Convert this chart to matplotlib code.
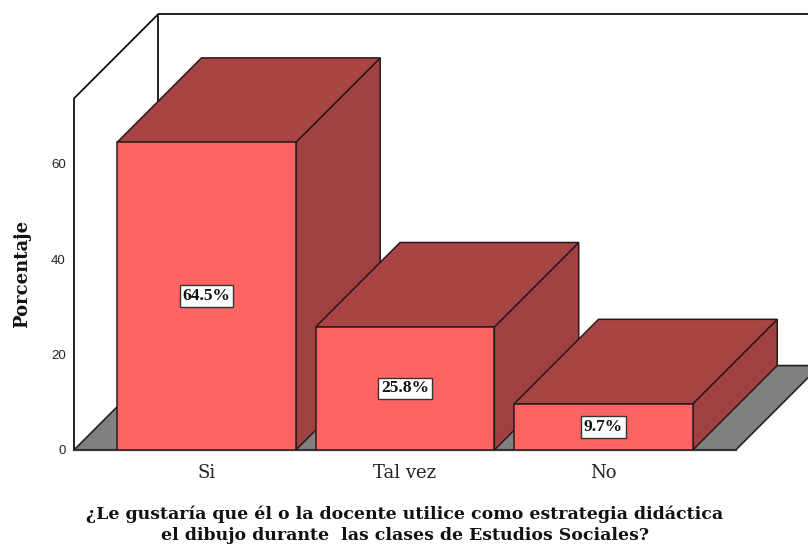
import matplotlib
matplotlib.use('Agg')
import matplotlib.pyplot as plt

# datos
categorias = ['Si', 'Tal vez', 'No']
porcentajes = [64.5, 25.8, 9.7]
etiquetas = ['64.5%', '25.8%', '9.7%']
ticks_y = [0, 20, 40, 60]

ancho = 0.9     # ancho de barra
prof_x = 0.425  # profundidad 3D en unidades de categoria
prof_y = 17.7   # profundidad 3D en unidades de porcentaje
y_max = 91.4
x_min = -0.6675
x_max = 3.03
x_piso = 2.666  # borde derecho del piso

c_frente = '#FF6464'
c_arriba = '#A84444'
c_lado = '#A04040'
c_piso = '#808080'
c_borde = '#2a1a1a'

fig = plt.figure(figsize=(8.08, 5.48), dpi=100)
ax = fig.add_axes([74 / 808, 1 - 450 / 548, 734 / 808, 436 / 548])
ax.set_xlim(x_min, x_max)
ax.set_ylim(0, y_max)

# paredes
ax.plot([x_min, x_min, x_min + prof_x, x_max],
        [0, y_max - prof_y, y_max, y_max], color='#111111', lw=1.3,
        clip_on=False, zorder=1)
ax.plot([x_min + prof_x, x_min + prof_x], [prof_y, y_max], color='#111111', lw=1.3, zorder=1)

# piso
ax.fill([x_min, x_piso, x_piso + prof_x, x_min + prof_x],
        [0, 0, prof_y, prof_y], facecolor=c_piso, edgecolor='#222222', lw=1.2, zorder=2)
ax.plot([x_min, x_piso], [0, 0], color='#333333', lw=1.6, clip_on=False, zorder=2)

# barras, de atras hacia adelante
for i, v in enumerate(porcentajes):
    x0 = i - ancho / 2
    x1 = i + ancho / 2
    z = 3 + i
    ax.fill([x1, x1 + prof_x, x1 + prof_x, x1], [0, prof_y, v + prof_y, v],
            facecolor=c_lado, edgecolor=c_borde, lw=1.1, zorder=z)
    ax.fill([x0, x1, x1 + prof_x, x0 + prof_x], [v, v, v + prof_y, v + prof_y],
            facecolor=c_arriba, edgecolor=c_borde, lw=1.1, zorder=z)
    ax.fill([x0, x1, x1, x0], [0, 0, v, v],
            facecolor=c_frente, edgecolor=c_borde, lw=1.1, zorder=z)
    ax.text(i, v / 2, etiquetas[i], ha='center', va='center', fontsize=12.5,
            fontweight='bold', family='Liberation Serif', color='#111111', zorder=10,
            bbox=dict(boxstyle='square,pad=0.16', facecolor='white', edgecolor='#333333', lw=1))

for lado in ax.spines.values():
    lado.set_visible(False)

ax.set_xticks(range(len(categorias)))
ax.set_xticklabels(categorias, family='DejaVu Serif', fontsize=13, color='#222222')
ax.set_yticks(ticks_y)
ax.set_yticklabels(ticks_y, family='Liberation Sans', fontsize=9.5, color='#222222')
ax.tick_params(axis='x', length=0, pad=10)
ax.tick_params(axis='y', length=0, pad=6)

fig.text(22 / 808, 1 - 274 / 548, 'Porcentaje', rotation=90, ha='center', va='center',
         family='DejaVu Serif', fontweight='bold', fontsize=13, color='#111111')
fig.text(405 / 808, 1 - 524.5 / 548,
         '¿Le gustaría que él o la docente utilice como estrategia didáctica\n'
         'el dibujo durante  las clases de Estudios Sociales?',
         ha='center', va='center', family='DejaVu Serif', fontweight='bold',
         fontsize=12.5, color='#111111', linespacing=1.3)

fig.savefig('out.png', dpi=100)
